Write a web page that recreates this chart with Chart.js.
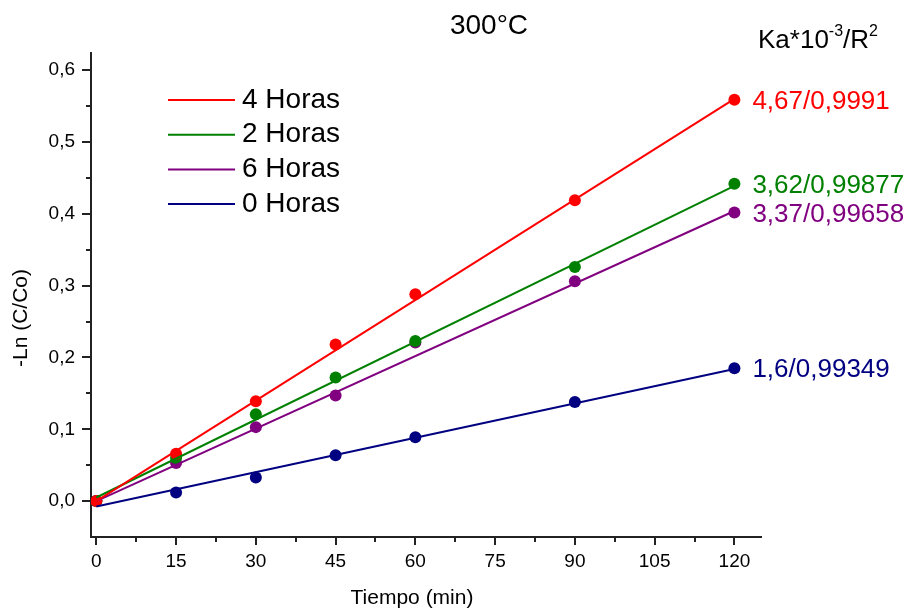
<!DOCTYPE html>
<html>
<head>
<meta charset="utf-8">
<script src="https://cdn.jsdelivr.net/npm/chart.js@4.4.0/dist/chart.umd.min.js"></script>
<style>
  html, body { margin: 0; padding: 0; background: #fff; }
</style>
</head>
<body>
<canvas id="kineticsChart" width="921" height="613"></canvas>
<script>
// measured values (-Ln(C/Co)) vs time, 300°C
const times = [0, 15, 30, 45, 60, 90, 120];
const horas4 = [0.0, 0.066, 0.139, 0.218, 0.288, 0.419, 0.559];
const horas2 = [0.0, 0.060, 0.121, 0.172, 0.223, 0.326, 0.442];
const horas6 = [0.0, 0.053, 0.103, 0.147, 0.221, 0.306, 0.402];
const horas0 = [0.0, 0.012, 0.033, 0.064, 0.089, 0.138, 0.185];

// linear fits, value at start and end of fitX
const fitX = [0, 120];
const fit4 = [0.0, 0.560];
const fit2 = [0.005, 0.439];
const fit6 = [0.0, 0.404];
const fit0 = [-0.0075, 0.184];

const seriesNames = ['4 Horas', '2 Horas', '6 Horas', '0 Horas'];
const seriesColors = ['#ff0000', '#008000', '#800080', '#000080'];
const fitLabels = ['4,67/0,9991', '3,62/0,99877', '3,37/0,99658', '1,6/0,99349'];

const xTicks = [0, 15, 30, 45, 60, 75, 90, 105, 120];
const xMinor = [7.5, 22.5, 37.5, 52.5, 67.5, 82.5, 97.5, 112.5];
const yTicks = [0, 0.1, 0.2, 0.3, 0.4, 0.5, 0.6];
const yMinor = [0.05, 0.15, 0.25, 0.35, 0.45, 0.55];

const FONT = '"Liberation Sans", Arial, sans-serif';

const pts = (xs, ys) => xs.map((x, i) => ({ x: x, y: ys[i] }));

const measured = [horas4, horas2, horas6, horas0];
const fits = [fit4, fit2, fit6, fit0];

const datasets = [];
fits.forEach((f, i) => {
  datasets.push({
    label: seriesNames[i],
    data: pts(fitX, f),
    showLine: true,
    borderColor: seriesColors[i],
    borderWidth: 2,
    pointRadius: 0,
    fill: false
  });
});
measured.forEach((m, i) => {
  datasets.push({
    label: seriesNames[i] + ' datos',
    data: pts(times, m),
    showLine: false,
    pointRadius: 6,
    pointBackgroundColor: seriesColors[i],
    pointBorderColor: seriesColors[i],
    pointBorderWidth: 0
  });
});

const extras = {
  id: 'extras',
  afterDraw(chart) {
    const { ctx, chartArea: a } = chart;
    const x = chart.scales.x, y = chart.scales.y;
    ctx.save();

    // tick marks
    ctx.strokeStyle = '#222';
    ctx.lineWidth = 2;
    const vTick = (v, len) => {
      const px = Math.round(x.getPixelForValue(v));
      ctx.beginPath(); ctx.moveTo(px, a.bottom); ctx.lineTo(px, a.bottom + len); ctx.stroke();
    };
    const hTick = (v, len) => {
      const py = Math.round(y.getPixelForValue(v));
      ctx.beginPath(); ctx.moveTo(a.left, py); ctx.lineTo(a.left - len, py); ctx.stroke();
    };
    xTicks.forEach(v => vTick(v, 8));
    xMinor.forEach(v => vTick(v, 5));
    yTicks.forEach(v => hTick(v, 9));
    yMinor.forEach(v => hTick(v, 5));

    // title
    ctx.fillStyle = '#000';
    ctx.textAlign = 'center';
    ctx.textBaseline = 'alphabetic';
    ctx.font = '28px ' + FONT;
    ctx.fillText('300°C', 489, 34);

    // Ka*10^-3/R^2 header
    ctx.textAlign = 'left';
    let hx = 758;
    const big = '26px ' + FONT, small = '16px ' + FONT;
    [['Ka*10', big, 0], ['-3', small, -12], ['/R', big, 0], ['2', small, -12]].forEach(([t, f, dy]) => {
      ctx.font = f;
      ctx.fillText(t, hx, 48 + dy);
      hx += ctx.measureText(t).width;
    });

    // axis titles
    ctx.font = '21px ' + FONT;
    ctx.textAlign = 'center';
    ctx.textBaseline = 'middle';
    ctx.fillText('Tiempo (min)', 412, 598);
    ctx.save();
    ctx.translate(21, 318);
    ctx.rotate(-Math.PI / 2);
    ctx.fillText('-Ln (C/Co)', 0, 0);
    ctx.restore();

    // legend
    ctx.textAlign = 'left';
    ctx.font = '28px ' + FONT;
    seriesNames.forEach((name, i) => {
      const ly = 100 + i * 34.7;
      ctx.strokeStyle = seriesColors[i];
      ctx.lineWidth = 2;
      ctx.beginPath(); ctx.moveTo(168, ly); ctx.lineTo(235, ly); ctx.stroke();
      ctx.fillStyle = '#000';
      ctx.fillText(name, 242, ly);
    });

    // fit labels next to last point
    ctx.font = '26px ' + FONT;
    fitLabels.forEach((lab, i) => {
      const m = measured[i];
      const px = x.getPixelForValue(times[times.length - 1]);
      const py = y.getPixelForValue(m[m.length - 1]);
      ctx.fillStyle = seriesColors[i];
      ctx.fillText(lab, px + 18, py + 2);
    });

    ctx.restore();
  }
};

new Chart(document.getElementById('kineticsChart').getContext('2d'), {
  type: 'scatter',
  data: { datasets: datasets },
  options: {
    responsive: false,
    animation: false,
    layout: { padding: { top: 53, right: 160, left: 0, bottom: 0 } },
    plugins: { legend: { display: false }, tooltip: { enabled: false } },
    scales: {
      x: {
        type: 'linear',
        min: -1,
        max: 125,
        grid: { display: false, drawTicks: false },
        border: { display: true, color: '#222', width: 2 },
        ticks: {
          font: { family: FONT, size: 19 },
          color: '#000',
          padding: 13,
          maxRotation: 0,
          autoSkip: false,
          callback: v => String(v)
        },
        afterBuildTicks: s => { s.ticks = xTicks.map(v => ({ value: v })); },
        afterFit: s => { s.height = 76; }
      },
      y: {
        type: 'linear',
        min: -0.05,
        max: 0.624,
        grid: { display: false, drawTicks: false },
        border: { display: true, color: '#222', width: 2 },
        ticks: {
          font: { family: FONT, size: 19 },
          color: '#000',
          padding: 16,
          autoSkip: false,
          callback: v => v.toFixed(1).replace('.', ',')
        },
        afterBuildTicks: s => { s.ticks = yTicks.map(v => ({ value: v })); },
        afterFit: s => { s.width = 91; }
      }
    }
  },
  plugins: [extras]
});
</script>
</body>
</html>
